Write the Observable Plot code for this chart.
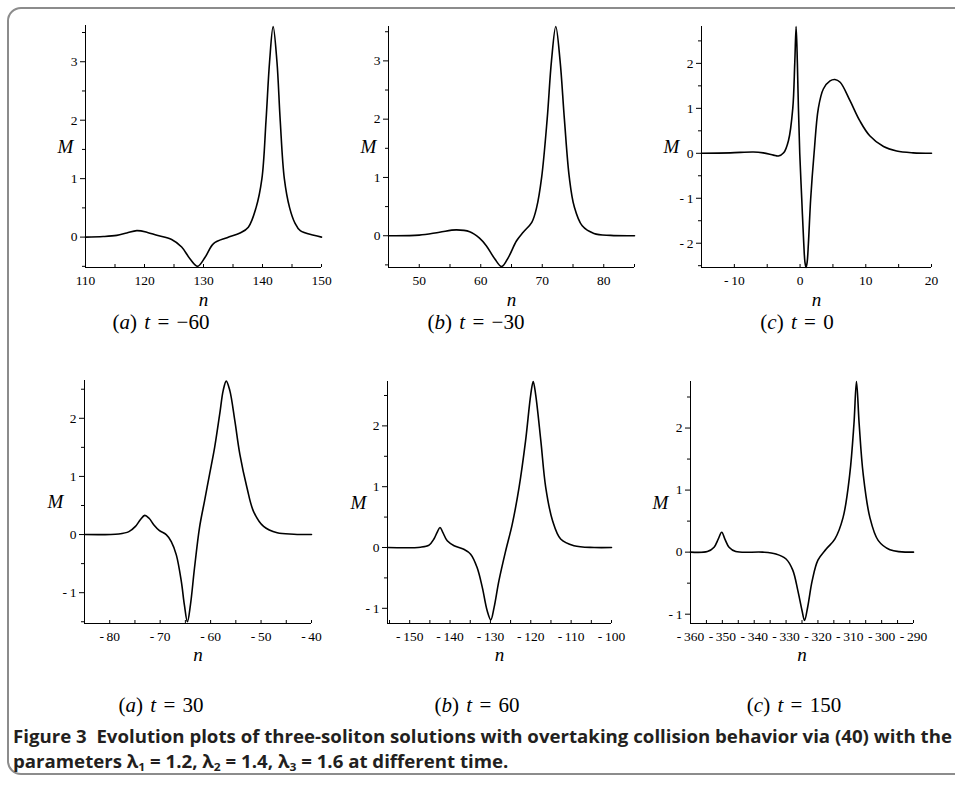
<!DOCTYPE html>
<html><head><meta charset="utf-8">
<script src="https://cdn.jsdelivr.net/npm/d3@7"></script>
<script src="https://cdn.jsdelivr.net/npm/@observablehq/plot@0.6"></script>
<style>
html,body{margin:0;padding:0;background:#fff;}
body{width:955px;height:800px;overflow:hidden;position:relative;font-family:"Liberation Serif",serif;}
#border{position:absolute;left:7px;top:7px;width:990px;height:768px;border:2px solid #8c8c8c;border-radius:14px;box-sizing:border-box;}
.panel{position:absolute;}
.panel svg{overflow:visible;max-width:none !important;}
.panel svg g[aria-label="x-axis tick label"] text,
.panel svg g[aria-label="y-axis tick label"] text{font-family:"Liberation Serif",serif !important;font-size:13.5px !important;}
.panel svg g[aria-label="text"] text{font-family:"Liberation Serif",serif !important;font-style:italic;font-size:19px !important;}
.sub{position:absolute;transform:translate(-50%,-50%);font-size:21px;white-space:nowrap;font-family:"Liberation Serif",serif;color:#000;word-spacing:2px;}
#caption{position:absolute;left:13px;top:724px;font-family:"Open Sans",sans-serif;font-weight:700;font-size:17px;line-height:25px;color:#231f20;white-space:nowrap;transform-origin:0 0;}
#caption sub{font-size:11px;vertical-align:-3px;line-height:0;}
</style></head><body>
<div id="border"></div>
<div id="root"></div>
<div id="caption"><div id="cap1">Figure 3&nbsp;&nbsp;Evolution plots of three-soliton solutions with overtaking collision behavior via (40) with the</div><div id="cap2">parameters λ<sub>1</sub> = 1.2, λ<sub>2</sub> = 1.4, λ<sub>3</sub> = 1.6 at different time.</div></div>
<script>
// ---- data ----
const n1 = [110, 113, 115.3, 117, 118.7, 120.5, 122.1, 124.6, 126.3, 127.7, 129.0, 130.3, 131.7, 134, 136.2, 137.6, 138.9, 139.9, 140.6, 141.2, 141.8, 142.45, 143.0, 143.7, 144.6, 145.5, 146.4, 148.7, 150];
const m1 = [0, 0.01, 0.03, 0.07, 0.11, 0.08, 0.03, -0.04, -0.17, -0.37, -0.50, -0.34, -0.11, -0.01, 0.07, 0.17, 0.5, 1.0, 2.0, 3.0, 3.60, 3.0, 2.0, 1.0, 0.5, 0.24, 0.11, 0.03, 0];

const n2 = [45, 50, 53.3, 56, 58.2, 59.8, 60.9, 62.3, 63.4, 64.5, 65.8, 66.9, 68.3, 69.1, 69.9, 70.8, 71.5, 72.2, 72.9, 73.6, 74.4, 75.2, 76.5, 78.4, 81.1, 85];
const m2 = [0, 0.01, 0.06, 0.10, 0.07, -0.04, -0.17, -0.40, -0.53, -0.37, -0.09, 0.06, 0.23, 0.49, 1.0, 2.0, 3.0, 3.59, 3.0, 2.0, 1.0, 0.5, 0.17, 0.04, 0.006, 0];

const n3 = [-15, -10.6, -7.1, -5.6, -4.05, -3.3, -2.5, -1.77, -1.11, -0.81, -0.6, -0.41, -0.25, -0.05, 0.25, 0.56, 0.74, 0.91, 1.08, 1.27, 1.62, 2.13, 2.78, 3.54, 4.56, 5.3, 6.1, 7.6, 9.1, 10.6, 12.7, 14.7, 17.2, 20];
const m3 = [0, 0.01, 0.03, 0.01, -0.04, -0.06, 0.01, 0.28, 1.0, 2.0, 2.82, 2.0, 1.0, 0.0, -1.0, -2.0, -2.42, -2.54, -2.42, -2.0, -1.0, 0.0, 1.0, 1.43, 1.61, 1.64, 1.58, 1.17, 0.72, 0.39, 0.15, 0.05, 0.01, 0];

const n4 = [-85, -78.2, -76.2, -74.9, -73.9, -73.05, -72.2, -71.2, -70.2, -68.8, -67.8, -66.8, -65.8, -65.2, -64.6, -64.0, -63.2, -62.2, -61.2, -60.2, -59.2, -58.2, -57.5, -56.9, -56.2, -55.2, -54.2, -52.8, -51.5, -49.5, -46.8, -43.5, -40];
const m4 = [0, 0.01, 0.05, 0.14, 0.26, 0.33, 0.28, 0.16, 0.07, 0, -0.12, -0.35, -0.81, -1.21, -1.50, -1.21, -0.58, 0.12, 0.58, 1.04, 1.50, 2.07, 2.48, 2.64, 2.48, 1.96, 1.38, 0.81, 0.40, 0.14, 0.03, 0.006, 0];

const n5 = [-155.5, -147.3, -145.2, -144.0, -143.2, -142.5, -141.8, -140.7, -139.0, -136.6, -134.9, -133.3, -132.0, -130.8, -129.9, -129.1, -127.9, -126.2, -124.6, -122.9, -121.3, -120.0, -119.4, -118.8, -117.5, -116.3, -114.6, -112.6, -109.3, -104.3, -100];
const m5 = [0, 0.005, 0.04, 0.14, 0.25, 0.33, 0.25, 0.11, 0.03, -0.03, -0.11, -0.33, -0.66, -1.04, -1.19, -0.99, -0.55, -0.05, 0.38, 0.99, 1.75, 2.52, 2.73, 2.52, 1.75, 0.99, 0.44, 0.14, 0.03, 0, 0];

const n6 = [-360, -354.7, -352.6, -351.3, -350.2, -349.2, -347.9, -345.8, -337.4, -333.2, -330, -327.9, -326.3, -325, -324.2, -323.2, -321.8, -320, -317.4, -314.7, -312.1, -310, -308.7, -307.9, -307.05, -305.8, -303.7, -301.1, -297.4, -290];
const m6 = [0, 0.01, 0.08, 0.21, 0.32, 0.21, 0.08, 0.01, 0, -0.03, -0.11, -0.29, -0.62, -0.94, -1.10, -0.88, -0.46, -0.13, 0.05, 0.21, 0.56, 1.26, 2.06, 2.75, 2.06, 1.26, 0.56, 0.19, 0.04, 0];

// tick labels
const xTicks1 = [110, 120, 130, 140, 150];
const xTicks2 = [50, 60, 70, 80];
const xTicks3 = [-10, 0, 10, 20];
const xTicks4 = [-80, -70, -60, -50, -40];
const xTicks5 = [-150, -140, -130, -120, -110, -100];
const xTicks6 = [-360, -350, -340, -330, -320, -310, -300, -290];
const yTicks1 = [0, 1, 2, 3];
const yTicks2 = [0, 1, 2, 3];
const yTicks3 = [-2, -1, 0, 1, 2];
const yTicks4 = [-1, 0, 1, 2];
const yTicks5 = [-1, 0, 1, 2];
const yTicks6 = [-1, 0, 1, 2];

// sub-captions
const subLetters = ["a", "b", "c", "a", "b", "c"];
const subTimes = ["\u221260", "\u221230", "0", "30", "60", "150"];

// domains
const xDomains = [[110, 150], [45, 85], [-15, 20], [-85, -40], [-155.5, -100], [-360, -290]];
const yDomains = [[-0.52, 3.62], [-0.545, 3.59], [-2.54, 2.82], [-1.53, 2.65], [-1.25, 2.73], [-1.15, 2.75]];

// ---- layout ----
const frames = [[85, 321, 25, 267], [388, 634, 26, 267], [701, 931, 26, 267],
                [84, 311, 380, 623], [387, 611, 381, 623], [690, 913, 381, 623]];
const mDx = [-28, -28, -38, -37, -37, -38];
const nDy = [38, 38, 38, 37, 37, 37];
const subPos = [[161, 322], [476, 322], [797, 322], [161, 705], [477, 705], [794, 705]];

const ns = [n1, n2, n3, n4, n5, n6];
const ms = [m1, m2, m3, m4, m5, m6];
const xts = [xTicks1, xTicks2, xTicks3, xTicks4, xTicks5, xTicks6];
const yts = [yTicks1, yTicks2, yTicks3, yTicks4, yTicks5, yTicks6];

const fmt = d => d < 0 ? "-\u2009" + Math.abs(d) : String(d);
const root = document.getElementById("root");

for (let i = 0; i < 6; i++) {
  const [L, R, T, B] = frames[i];
  const ml = 60, mr = 30, mt = 10, mb = 50;
  const fw = R - L, fh = B - T;
  const xd = xDomains[i], yd = yDomains[i];
  const data = ns[i].map((v, k) => ({n: v, M: ms[i][k]}));
  const xMinor = d3.range(Math.ceil(xd[0] / 5) * 5, xd[1] + 0.001, 5);
  const yMinor = d3.range(Math.ceil(yd[0] * 2) / 2, yd[1] + 0.001, 0.5).filter(v => !yts[i].includes(v));
  const svg = Plot.plot({
    width: fw + ml + mr, height: fh + mt + mb,
    marginLeft: ml, marginRight: mr, marginTop: mt, marginBottom: mb,
    x: {domain: xd, label: null},
    y: {domain: yd, label: null},
    style: {fontFamily: "Liberation Serif, serif", fontSize: "13px", color: "#000", background: "transparent"},
    marks: [
      Plot.ruleY([yd[0]], {stroke: "#000", strokeWidth: 1}),
      Plot.ruleX([xd[0]], {stroke: "#000", strokeWidth: 1}),
      Plot.tickX(xMinor, {x: d => d, insetTop: fh - 3, stroke: "#000"}),
      Plot.axisX({ticks: xts[i], tickSize: 0, tickPadding: 8, tickFormat: fmt, fontSize: 13, label: null}),
      Plot.axisY({ticks: yts[i], tickSize: 5, tickPadding: 3, tickFormat: fmt, fontSize: 13, label: null}),
      Plot.axisY({ticks: yMinor, tickSize: 3, tickFormat: () => "", label: null}),
      Plot.line(data, {x: "n", y: "M", curve: "catmull-rom", stroke: "#000", strokeWidth: 1.6}),
      Plot.text(["n"], {frameAnchor: "bottom", dy: nDy[i], text: d => d, fontStyle: "italic", fontSize: 19, fontFamily: "Liberation Serif, serif"}),
      Plot.text(["M"], {frameAnchor: "left", dx: mDx[i], text: d => d, fontStyle: "italic", fontSize: 19, fontFamily: "Liberation Serif, serif"})
    ]
  });
  const div = document.createElement("div");
  div.className = "panel";
  div.style.left = (L - ml) + "px";
  div.style.top = (T - mt) + "px";
  div.appendChild(svg);
  root.appendChild(div);

  const s = document.createElement("div");
  s.className = "sub";
  s.style.left = subPos[i][0] + "px";
  s.style.top = subPos[i][1] + "px";
  s.innerHTML = "(<i>" + subLetters[i] + "</i>) <i>t</i> = " + subTimes[i];
  root.appendChild(s);
}

// fit caption width to the reference line length
const cap = document.getElementById("caption");
const w = document.getElementById("cap1").getBoundingClientRect().width;
cap.style.transform = "scaleX(" + (939 / w) + ")";
</script>
</body></html>
